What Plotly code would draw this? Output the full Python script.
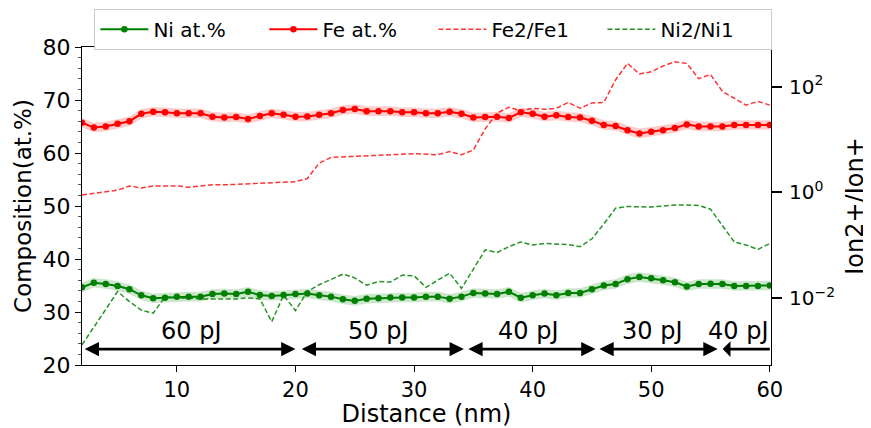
import plotly.graph_objects as go

distance = list(range(2, 61))

fe_at = [65.7, 64.8, 65.0, 65.5, 66.0, 67.4, 67.8, 67.7, 67.5, 67.5,
         67.5, 66.85, 66.7, 66.8, 66.4, 67.0, 67.5, 67.2, 66.85, 66.9,
         67.2, 67.5, 68.1, 68.3, 67.9, 67.9, 67.9, 67.7, 67.7, 67.5,
         67.5, 67.8, 67.4, 66.7, 66.8, 66.85, 66.6, 67.7, 67.4, 66.85,
         67.1, 66.8, 66.7, 66.1, 65.3, 65.1, 64.3, 63.7, 64.0, 64.3,
         64.7, 65.4, 65.0, 65.0, 65.0, 65.3, 65.3, 65.3, 65.3]

ni_at = [34.65, 35.5, 35.3, 34.9, 34.3, 33.15, 32.6, 32.7, 32.9, 32.9,
         32.9, 33.4, 33.5, 33.4, 33.8, 33.2, 33.0, 33.2, 33.4, 33.5,
         33.15, 32.9, 32.4, 32.1, 32.5, 32.6, 32.75, 32.75, 32.75, 32.9,
         32.9, 32.5, 32.9, 33.6, 33.5, 33.4, 33.8, 32.7, 33.15, 33.5,
         33.15, 33.6, 33.6, 34.3, 35.0, 35.3, 36.2, 36.6, 36.35, 36.0,
         35.6, 34.8, 35.3, 35.35, 35.3, 34.9, 34.9, 34.9, 35.0]

fe_ratio_log = [-0.05, -0.02, 0.01, 0.04, 0.12, 0.08, 0.12, 0.12, 0.12, 0.095,
                0.12, 0.14, 0.14, 0.15, 0.15, 0.16, 0.17, 0.18, 0.2, 0.26,
                0.55, 0.66, 0.67, 0.68, 0.69, 0.70, 0.71, 0.72, 0.73, 0.72,
                0.71, 0.77, 0.71, 0.80, 1.2, 1.5, 1.61, 1.54, 1.59, 1.57,
                1.59, 1.70, 1.59, 1.69, 1.70, 2.13, 2.44, 2.24, 2.28, 2.39,
                2.47, 2.44, 2.15, 2.23, 1.91, 1.78, 1.65, 1.72, 1.65]

ni_ratio_log = [-2.89, -2.55, -2.2, -1.88, -2.07, -2.23, -2.29, -1.98, -2.0, -2.0,
                -2.02, -2.02, -2.03, -2.02, -2.0, -2.02, -2.45, -1.95, -2.24, -1.88,
                -1.75, -1.65, -1.55, -1.62, -1.76, -1.69, -1.70, -1.57, -1.58, -1.80,
                -1.66, -1.53, -1.82, -1.45, -1.09, -1.14, -1.03, -0.94, -1.0, -0.97,
                -0.98, -0.99, -1.03, -0.88, -0.6, -0.30, -0.27, -0.28, -0.28, -0.26,
                -0.24, -0.24, -0.25, -0.32, -0.62, -0.94, -1.0, -1.08, -0.97]

fe_ratio = [10 ** v for v in fe_ratio_log]
ni_ratio = [10 ** v for v in ni_ratio_log]

band_err = 0.9

energy_labels = ["60 pJ", "50 pJ", "40 pJ", "30 pJ", "40 pJ"]
energy_starts = [2.1, 20.4, 34.45, 45.5, 55.9]
energy_ends = [20.0, 34.2, 45.3, 55.6, 60.0]
label_x = [11.2, 27.0, 39.6, 50.1, 57.3]

FONT = "DejaVu Sans"
fig = go.Figure()

def band(y, color):
    up = [v + band_err for v in y]
    lo = [v - band_err for v in y]
    fig.add_trace(go.Scatter(x=distance, y=up, mode="lines", line=dict(width=0),
                             showlegend=False, hoverinfo="skip"))
    fig.add_trace(go.Scatter(x=distance, y=lo, mode="lines", line=dict(width=0),
                             fill="tonexty", fillcolor=color, showlegend=False, hoverinfo="skip"))

band(ni_at, "rgba(0,128,0,0.2)")
band(fe_at, "rgba(255,0,0,0.2)")

fig.add_trace(go.Scatter(x=distance, y=ni_at, mode="lines+markers", name="Ni at.%",
                         line=dict(color="#008000", width=2), marker=dict(size=6.5, color="#008000")))
fig.add_trace(go.Scatter(x=distance, y=fe_at, mode="lines+markers", name="Fe at.%",
                         line=dict(color="#ff0000", width=2), marker=dict(size=6.5, color="#ff0000")))
fig.add_trace(go.Scatter(x=distance, y=fe_ratio, mode="lines", name="Fe2/Fe1", yaxis="y2",
                         line=dict(color="rgba(255,0,0,0.8)", width=1.5, dash="5px,2.5px")))
fig.add_trace(go.Scatter(x=distance, y=ni_ratio, mode="lines", name="Ni2/Ni1", yaxis="y2",
                         line=dict(color="rgba(0,128,0,0.85)", width=1.5, dash="5px,2.5px")))

annotations = []
arrow_y = 23.0
for i, (s, e) in enumerate(zip(energy_starts, energy_ends)):
    last = i == len(energy_starts) - 1
    annotations.append(dict(x=e, y=arrow_y, ax=s, ay=arrow_y, xref="x", yref="y",
                            axref="x", ayref="y", text="", showarrow=True,
                            arrowhead=2, arrowsize=1.1, arrowwidth=2.6, arrowcolor="black",
                            arrowside="start" if last else "end+start"))
for lx, lab in zip(label_x, energy_labels):
    annotations.append(dict(x=lx, y=26.5, xref="x", yref="y", text=lab, showarrow=False,
                            font=dict(family=FONT, size=24, color="black")))

# page body has an 8px default margin, so the figure is sized to fit the window
fig.update_layout(
    width=863, height=420,
    margin=dict(l=74, r=100, t=39, b=63, autoexpand=False),
    plot_bgcolor="white", paper_bgcolor="white",
    font=dict(family=FONT, size=20, color="black"),
    showlegend=True,
    legend=dict(orientation="h", x=0.018, y=1.12, xanchor="left", yanchor="top",
                bordercolor="#cccccc", borderwidth=1, bgcolor="white",
                font=dict(family=FONT, size=20), entrywidth=106, itemwidth=48,
                traceorder="normal", tracegroupgap=0),
    xaxis=dict(range=[2, 60.1], tickvals=[10, 20, 30, 40, 50, 60], ticks="outside",
               ticklen=6, tickcolor="black", showline=True, linecolor="black", mirror=True,
               showgrid=False, zeroline=False, automargin=False,
               title=dict(text="Distance (nm)", font=dict(size=24), standoff=2),
               tickfont=dict(size=21)),
    yaxis=dict(range=[20, 80], dtick=10, ticks="outside", ticklen=6, tickcolor="black",
               showline=True, linecolor="black", mirror=True, showgrid=False, zeroline=False,
               automargin=False,
               minor=dict(dtick=2, ticks="outside", ticklen=3.5, tickcolor="#555555"),
               title=dict(text="Composition(at.%)", font=dict(size=23), standoff=4),
               tickfont=dict(size=22)),
    yaxis2=dict(type="log", overlaying="y", side="right", range=[-3.27, 2.75],
                tickvals=[0.01, 1, 100],
                ticktext=["10<sup>−2</sup>", "10<sup>0</sup>", "10<sup>2</sup>"],
                ticks="outside", ticklen=10, tickwidth=1.5, tickcolor="black", showline=True,
                linecolor="black", showgrid=False, zeroline=False, automargin=False,
                ticklabelstandoff=3,
                title=dict(text="Ion2+/Ion+", font=dict(size=24), standoff=12),
                tickfont=dict(size=20)),
    annotations=annotations,
)

fig.write_html("out.html")
